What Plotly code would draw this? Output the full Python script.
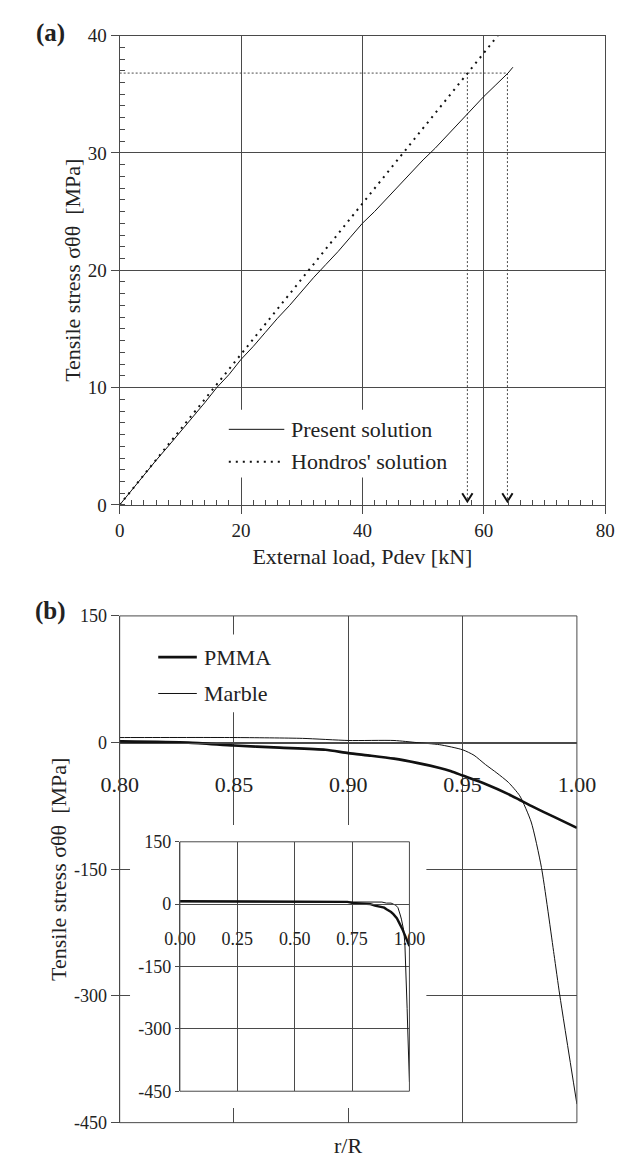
import plotly.graph_objects as go

W, H = 642, 1169

# ---------------- (a) tensile stress vs external load ----------------
load_present = [0, 2, 4, 6, 8, 10, 12, 14, 16, 18, 20, 22, 24, 26, 28, 30, 32, 34,
                36, 38, 40, 42, 44, 46, 48, 50, 52, 54, 56, 58, 60, 62, 64, 64.8]
stress_present = [0.0, 1.3, 2.5, 3.8, 5.0, 6.2, 7.5, 8.7, 10.0, 11.1, 12.4, 13.5, 14.7,
                  15.9, 17.0, 18.2, 19.4, 20.5, 21.6, 22.8, 24.0, 25.0, 26.1, 27.2, 28.3,
                  29.4, 30.4, 31.5, 32.6, 33.7, 34.8, 35.8, 36.8, 37.3]
load_hondros = [0, 10, 20, 30, 40, 50, 60, 62.3]
stress_hondros = [0.0, 6.4, 12.8, 19.3, 25.7, 32.1, 38.5, 40.0]
failure_loads = [57.3, 63.9]
failure_stress = 36.8
series_a = ["Present solution", "Hondros' solution"]
xticks_a = [0, 20, 40, 60, 80]
yticks_a = [0, 10, 20, 30, 40]

# ---------------- (b) stress along r/R ----------------
r_pmma = [0.00, 0.25, 0.50, 0.70, 0.73, 0.75, 0.78, 0.80, 0.83, 0.85, 0.87, 0.89, 0.90,
          0.91, 0.92, 0.93, 0.94, 0.945, 0.95, 0.96, 0.97, 0.975, 0.98, 0.99, 1.00]
s_pmma = [7, 7, 6.5, 6, 5.5, 3, 2, 1.5, 0, -3.5, -6, -8.5, -12.5,
          -15.5, -19, -24, -30, -34, -39, -49, -61, -68, -75, -88, -101]
r_marble = [0.00, 0.25, 0.50, 0.75, 0.80, 0.85, 0.88, 0.90, 0.92, 0.93, 0.94, 0.95,
            0.955, 0.96, 0.965, 0.97, 0.975, 0.98, 0.9845, 0.99, 0.9925, 1.00]
s_marble = [6, 6, 6, 6, 6, 6, 5, 2.5, 2.5, 0, -2.5, -8.5,
            -15, -26, -36, -47, -63, -94, -148, -251, -299, -428]
series_b = ["PMMA", "Marble"]
xticks_b = [0.80, 0.85, 0.90, 0.95, 1.00]
yticks_b = [-450, -300, -150, 0, 150]
xticks_in = [0.00, 0.25, 0.50, 0.75, 1.00]
yticks_in = [-450, -300, -150, 0, 150]

# ---------------- layout helpers ----------------
AX = "#4a4a4a"
LN = "#111111"
TXT = "#222222"
FONT = "Liberation Serif, Times New Roman, Times, serif"


def px_x(px):
    return px / W


def px_y(py):
    return 1 - py / H


def xdom(a, b):
    return [px_x(a), px_x(b)]


def ydom(top, bot):
    return [px_y(bot), px_y(top)]


dom_a_x, dom_a_y = xdom(107, 623), ydom(26, 504)
dom_b_x, dom_b_y = xdom(107, 593), ydom(617, 1133)
dom_i_x, dom_i_y = xdom(171, 415), ydom(847, 1101)

rng_b_x, rng_b_y = [0.8, 1.0], [-450, 150]
rng_i_x, rng_i_y = [0.0, 1.0], [-450, 150]


def zero_pos(dom, rng):
    return dom[0] + (0 - rng[0]) / (rng[1] - rng[0]) * (dom[1] - dom[0])


def b_data_x(px):
    return rng_b_x[0] + (px - 107) / (593 - 107) * (rng_b_x[1] - rng_b_x[0])


def b_data_y(py):
    return rng_b_y[1] - (py - 617) / (1133 - 617) * (rng_b_y[1] - rng_b_y[0])


fig = go.Figure()

# ---- (a) traces
fig.add_trace(go.Scatter(x=[0, failure_loads[1]], y=[failure_stress, failure_stress],
                         mode="lines", line=dict(color=AX, width=1, dash="2px,2px"),
                         xaxis="x", yaxis="y", showlegend=False, hoverinfo="skip"))
for xf in failure_loads:
    fig.add_trace(go.Scatter(x=[xf, xf], y=[failure_stress, 0.3], mode="lines",
                             line=dict(color=AX, width=1, dash="2px,2px"),
                             xaxis="x", yaxis="y", showlegend=False, hoverinfo="skip"))
    fig.add_trace(go.Scatter(x=[xf - 0.85, xf, xf + 0.85], y=[1.0, 0.3, 1.0], mode="lines",
                             line=dict(color=LN, width=2),
                             xaxis="x", yaxis="y", showlegend=False, hoverinfo="skip"))
fig.add_trace(go.Scatter(x=load_present, y=stress_present, mode="lines", name=series_a[0],
                         line=dict(color=LN, width=1), xaxis="x", yaxis="y", showlegend=False))
fig.add_trace(go.Scatter(x=load_hondros, y=stress_hondros, mode="lines", name=series_a[1],
                         line=dict(color=LN, width=2, dash="2px,5px"),
                         xaxis="x", yaxis="y", showlegend=False))

# ---- (b) white panel behind the inset (drawn in the main panel, above its grid)
bx0, bx1, by0, by1 = b_data_x(118), b_data_x(433), b_data_y(1118), b_data_y(830)
fig.add_trace(go.Scatter(x=[bx0, bx1, bx1, bx0, bx0], y=[by0, by0, by1, by1, by0],
                         mode="lines", fill="toself", fillcolor="white",
                         line=dict(width=0, color="white"),
                         xaxis="x2", yaxis="y2", showlegend=False, hoverinfo="skip"))
fig.add_trace(go.Scatter(x=r_marble, y=s_marble, mode="lines", name=series_b[1],
                         line=dict(color=LN, width=1, shape="spline", smoothing=0.6),
                         xaxis="x2", yaxis="y2", showlegend=False))
fig.add_trace(go.Scatter(x=r_pmma, y=s_pmma, mode="lines", name=series_b[0],
                         line=dict(color=LN, width=2.6, shape="spline", smoothing=0.6),
                         xaxis="x2", yaxis="y2", showlegend=False))
# inset
fig.add_trace(go.Scatter(x=r_marble, y=s_marble, mode="lines", name=series_b[1],
                         line=dict(color=LN, width=1), xaxis="x3", yaxis="y3", showlegend=False))
fig.add_trace(go.Scatter(x=r_pmma, y=s_pmma, mode="lines", name=series_b[0],
                         line=dict(color=LN, width=2.4), xaxis="x3", yaxis="y3", showlegend=False))

common = dict(showgrid=True, gridcolor=AX, gridwidth=1, zeroline=False,
              linecolor=AX, linewidth=1, tickcolor=AX, tickwidth=1,
              tickfont=dict(family=FONT, size=19, color=TXT))

fig.update_layout(
    width=W, height=H, margin=dict(l=0, r=0, t=0, b=0),
    paper_bgcolor="white", plot_bgcolor="white",
    font=dict(family=FONT, color=TXT),
    showlegend=False,
    xaxis=dict(domain=dom_a_x, range=[0, 80], anchor="y", tickvals=xticks_a,
               ticks="outside", ticklen=8, showline=True, mirror=True,
               minor=dict(ticks="inside", ticklen=5, dtick=2, tickcolor=AX, showgrid=False),
               title=dict(text="External load, Pdev [kN]", font=dict(family=FONT, size=22), standoff=8),
               **common),
    yaxis=dict(domain=dom_a_y, range=[0, 40], anchor="x", tickvals=yticks_a,
               ticks="outside", ticklen=8, showline=True, mirror=True,
               minor=dict(ticks="inside", ticklen=5, dtick=1, tickcolor=AX, showgrid=False),
               title=dict(text="Tensile stress σθθ  [MPa]", font=dict(family=FONT, size=22), standoff=1),
               **common),
    xaxis2=dict(domain=dom_b_x, range=rng_b_x, anchor="free",
                position=zero_pos(dom_b_y, rng_b_y),
                tickvals=xticks_b, ticktext=[f"{v:.2f}" for v in xticks_b],
                ticks="outside", ticklen=22, showline=True,
                **{**common, "tickcolor": "rgba(0,0,0,0)",
                   "tickfont": dict(family=FONT, size=22, color=TXT)}),
    yaxis2=dict(domain=dom_b_y, range=rng_b_y, anchor="x2", tickvals=yticks_b,
                ticktext=[str(v) for v in yticks_b],
                ticks="outside", ticklen=8, showline=True,
                title=dict(text="Tensile stress σθθ  [MPa]", font=dict(family=FONT, size=22), standoff=1),
                **{**common, "tickfont": dict(family=FONT, size=18, color=TXT)}),
    xaxis3=dict(domain=dom_i_x, range=rng_i_x, anchor="free",
                position=zero_pos(dom_i_y, rng_i_y),
                tickvals=xticks_in, ticktext=[f"{v:.2f}" for v in xticks_in],
                ticks="outside", ticklen=18, showline=True,
                **{**common, "tickcolor": "rgba(0,0,0,0)",
                   "tickfont": dict(family=FONT, size=18, color=TXT)}),
    yaxis3=dict(domain=dom_i_y, range=rng_i_y, anchor="x3", tickvals=yticks_in,
                ticktext=[str(v) for v in yticks_in],
                ticks="outside", ticklen=4, showline=True,
                **{**common, "tickfont": dict(family=FONT, size=18, color=TXT)}),
)

shapes = [
    # borders of (b) main panel and inset
    dict(type="rect", xref="x2 domain", yref="y2 domain", x0=0, x1=1, y0=0, y1=1,
         line=dict(color=AX, width=1), layer="above"),
    dict(type="rect", xref="x3 domain", yref="y3 domain", x0=0, x1=1, y0=0, y1=1,
         line=dict(color=AX, width=1), layer="above"),
    # legend (a)
    dict(type="rect", xref="paper", yref="paper", x0=px_x(212), x1=px_x(470),
         y0=px_y(476), y1=px_y(407), fillcolor="white", line=dict(width=0), layer="above"),
    dict(type="line", xref="paper", yref="paper", x0=px_x(223), x1=px_x(282),
         y0=px_y(427), y1=px_y(427), line=dict(color=LN, width=1), layer="above"),
    dict(type="line", xref="paper", yref="paper", x0=px_x(223), x1=px_x(282),
         y0=px_y(460), y1=px_y(460), line=dict(color=LN, width=2, dash="2px,5px"), layer="above"),
    # legend (b)
    dict(type="rect", xref="paper", yref="paper", x0=px_x(140), x1=px_x(300),
         y0=px_y(715), y1=px_y(636), fillcolor="white", line=dict(width=0), layer="above"),
    dict(type="line", xref="paper", yref="paper", x0=px_x(148), x1=px_x(189),
         y0=px_y(659), y1=px_y(659), line=dict(color=LN, width=2.6), layer="above"),
    dict(type="line", xref="paper", yref="paper", x0=px_x(148), x1=px_x(189),
         y0=px_y(696), y1=px_y(696), line=dict(color=LN, width=1), layer="above"),
]
fig.update_layout(shapes=shapes)

ann = []
def text(s, x, y, size=22, anchor="left", bold=False, angle=0):
    ann.append(dict(text=f"<b>{s}</b>" if bold else s, xref="paper", yref="paper",
                    x=px_x(x), y=px_y(y), xanchor=anchor, yanchor="middle",
                    showarrow=False, textangle=angle,
                    font=dict(family=FONT, size=size, color=TXT)))

text(series_a[0], 287, 427)
text(series_a[1], 287, 460)
text(series_b[0], 194, 659)
text(series_b[1], 194, 696)
text("(a)", 33, 23, size=25, anchor="center", bold=True)
text("(b)", 33, 612, size=25, anchor="center", bold=True)
text("r/R", 350, 1156, size=22, anchor="center")
fig.update_layout(annotations=ann)

fig.write_html("out.html")
